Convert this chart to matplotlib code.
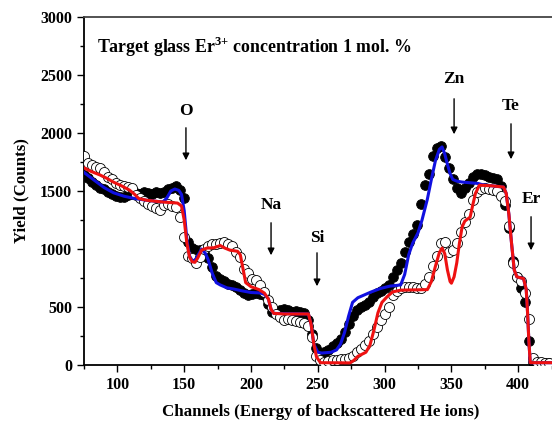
import matplotlib
matplotlib.use("Agg")
import matplotlib.pyplot as plt
from matplotlib.ticker import MultipleLocator

# ---------------- data ----------------
channels = list(range(75, 424, 3))

# filled circles (experimental, series 1)
yield_filled = [
    1640, 1610, 1580, 1555, 1530, 1515, 1490, 1470, 1455, 1445,
    1450, 1465, 1470, 1485, 1478, 1490, 1480, 1475, 1488, 1480,
    1495, 1515, 1530, 1540, 1505, 1440, 1060, 1010, 995, 990,
    965, 925, 845, 765, 740, 720, 700, 690, 670, 650,
    620, 600, 610, 625, 615, 600, 530, 455, 460, 475,
    480, 470, 455, 462, 455, 445, 390, 270, 150, 80,
    110, 128, 160, 190, 222, 285, 350, 420, 470, 500,
    520, 545, 585, 620, 640, 662, 690, 760, 820, 880,
    970, 1060, 1130, 1210, 1390, 1550, 1650, 1800, 1870, 1885,
    1790, 1700, 1600, 1530, 1480, 1530, 1570, 1620, 1650, 1645,
    1640, 1625, 1615, 1600, 1540, 1380, 1180, 900, 760, 660,
    540, 210, 30, 20, 15, 15, 15,
]

# open circles (experimental, series 2)
yield_open = [
    1800, 1745, 1720, 1710, 1695, 1660, 1620, 1600, 1570, 1550,
    1540, 1535, 1528, 1465, 1440, 1410, 1390, 1370, 1350, 1340,
    1380, 1390, 1370, 1360, 1280, 1100, 940, 920, 880, 930,
    1000, 1030, 1040, 1040, 1050, 1060, 1040, 1030, 970, 930,
    830, 790, 740, 730, 690, 630, 560, 500, 440, 410,
    390, 400, 390, 380, 370, 360, 340, 240, 80, 40,
    30, 35, 40, 45, 50, 55, 60, 80, 110, 140,
    170, 210, 270, 330, 390, 440, 500, 600, 640, 660,
    670, 670, 672, 665, 660, 700, 760, 850, 940, 1050,
    1060, 970, 990, 1050, 1150, 1230, 1300, 1420, 1490, 1520,
    1530, 1520, 1510, 1500, 1460, 1410, 1200, 880, 760, 720,
    620, 400, 60, 30, 25, 20, 20,
]

# simulated fit for filled circles (blue)
blue_ch = [75, 83, 90, 97, 105, 113, 122, 134, 137, 140, 143, 146, 148, 150,
           152, 154, 156, 158, 160, 163, 166, 168, 171, 174, 177, 182, 187,
           193, 200, 207, 210, 213, 215, 217, 243, 245, 247, 250, 253, 260,
           264, 267, 270, 273, 276, 280, 284, 290, 297, 304, 312, 315, 318,
           321, 325, 328, 332, 335, 338, 341, 343, 345, 347, 349, 351, 354,
           358, 365, 370, 373, 380, 389, 391, 393, 395, 397, 399, 404, 406,
           407, 408, 409, 430]
blue_y = [1660, 1590, 1530, 1485, 1455, 1435, 1420, 1405, 1440, 1500, 1517,
          1505, 1470, 1330, 1080, 940, 900, 900, 940, 1000, 960, 905, 790,
          710, 690, 665, 655, 640, 625, 621, 610, 570, 480, 445, 440, 350,
          180, 110, 103, 110, 130, 180, 280, 420, 540, 580, 600, 630, 660,
          680, 690, 780, 950, 1050, 1140, 1250, 1430, 1600, 1760, 1860, 1880,
          1820, 1730, 1650, 1600, 1585, 1577, 1570, 1565, 1555, 1545, 1534,
          1480, 1300, 1050, 820, 760, 745, 650, 450, 200, 20, 20]

# simulated fit for open circles (red)
red_ch = [75, 80, 87, 92, 97, 103, 109, 113, 116, 122, 134, 145, 148, 150,
          152, 154, 156, 158, 160, 163, 167, 172, 177, 180, 184, 190, 192,
          194, 196, 200, 206, 210, 213, 215, 217, 225, 243, 245, 247, 249,
          252, 274, 277, 280, 286, 289, 292, 295, 298, 302, 306, 312, 332,
          335, 338, 341, 343, 345, 347, 349, 350, 352, 354, 356, 358, 360,
          364, 366, 368, 371, 380, 389, 391, 393, 395, 397, 399, 404, 406,
          407, 408, 409, 430]
red_y = [1700, 1670, 1638, 1610, 1577, 1545, 1508, 1470, 1435, 1420, 1405,
         1396, 1370, 1250, 1050, 930, 890, 885, 920, 990, 1008, 1010, 1030,
         1010, 991, 980, 950, 830, 710, 675, 650, 620, 570, 480, 445, 440,
         440, 350, 180, 70, 20, 18, 40, 75, 110, 170, 300, 450, 540, 590,
         630, 645, 650, 720, 850, 970, 1008, 960, 820, 720, 705, 760, 880,
         1050, 1190, 1240, 1275, 1380, 1480, 1550, 1545, 1534, 1480, 1300,
         1050, 820, 760, 745, 650, 450, 200, 20, 20]

# element labels: (label, channel, label y, arrow top, arrow tip)
elements = ["O", "Na", "Si", "Zn", "Te", "Er"]
element_ch = [151.3, 215, 249.4, 352, 394.6, 409.6]
element_label_y = [2190, 1379, 1095, 2465, 2233, 1431]
element_arrow_top = [2069, 1250, 991, 2319, 2103, 1302]
element_arrow_tip = [1741, 922, 655, 1965, 1750, 965]

xticks = [100, 150, 200, 250, 300, 350, 400]
yticks = [0, 500, 1000, 1500, 2000, 2500, 3000]

# ---------------- figure ----------------
serif = ["Liberation Serif", "DejaVu Serif"]
plt.rcParams["font.family"] = serif
plt.rcParams["mathtext.fontset"] = "custom"
plt.rcParams["mathtext.rm"] = "Liberation Serif:bold"
plt.rcParams["mathtext.bf"] = "Liberation Serif:bold"

W, H = 552, 422
fig = plt.figure(figsize=(W / 100, H / 100), dpi=100)
left_px, right_px, top_px, bottom_px = 84, 558.3, 17, 365
ax = fig.add_axes([left_px / W, 1 - bottom_px / H,
                   (right_px - left_px) / W, (bottom_px - top_px) / H])

ax.plot(channels, yield_filled, "o", ms=7, mfc="black", mec="black",
        mew=0.6, zorder=2)
ax.plot(channels, yield_open, "o", ms=7.2, mfc="white", mec="black",
        mew=0.6, zorder=3)
ax.plot(blue_ch, blue_y, "-", color="#1010e0", lw=2.2, zorder=4)
ax.plot(red_ch, red_y, "-", color="#ee1111", lw=2.2, zorder=5)

ax.set_xlim(75, 430)
ax.set_ylim(0, 3000)
ax.set_xticks(xticks)
ax.set_yticks(yticks)
ax.xaxis.set_minor_locator(MultipleLocator(25))
ax.yaxis.set_minor_locator(MultipleLocator(250))
ax.tick_params(which="major", direction="out", length=5, width=1,
               labelsize=11.5)
ax.tick_params(which="minor", direction="out", length=3, width=1)
for lab in ax.get_xticklabels() + ax.get_yticklabels():
    lab.set_fontweight("bold")
for s in ["left", "bottom"]:
    ax.spines[s].set_linewidth(1.3)
ax.spines["top"].set_linewidth(1.3)
ax.spines["top"].set_color("#444444")
ax.spines["right"].set_visible(False)

ax.set_xlabel("Channels (Energy of backscattered He ions)", fontsize=12.2,
              fontweight="bold", labelpad=8)
ax.set_ylabel("Yield (Counts)", fontsize=12.2, fontweight="bold", labelpad=8)

ax.text(84.7, 2741, r"Target glass Er$^{\mathbf{3{+}}}$ concentration 1 mol. %",
        fontsize=12.9, fontweight="bold", ha="left", va="center")

for lab, x, ly, at, tip in zip(elements, element_ch, element_label_y,
                               element_arrow_top, element_arrow_tip):
    ax.text(x, ly, lab, fontsize=12.5, fontweight="bold", ha="center",
            va="center")
    ax.annotate("", xy=(x, tip), xytext=(x, at),
                arrowprops=dict(arrowstyle="-|>", color="black", lw=1,
                                mutation_scale=10))

fig.savefig("out.png", dpi=100)
